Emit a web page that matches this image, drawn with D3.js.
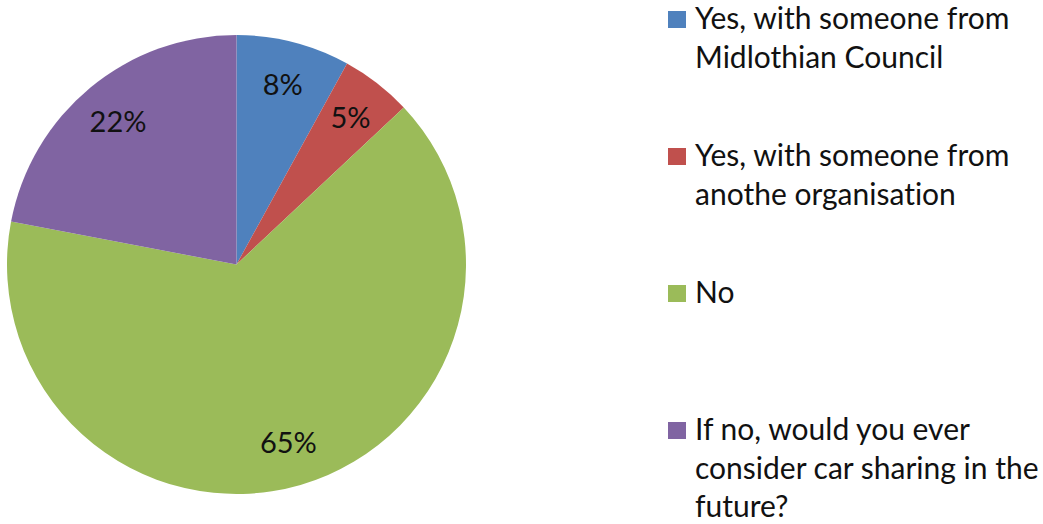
<!DOCTYPE html>
<html>
<head>
<meta charset="utf-8">
<script src="https://cdn.jsdelivr.net/npm/d3@7"></script>
<style>
  html, body { margin: 0; padding: 0; background: #fff; }
  svg { display: block; }
  text { font-family: Lato, "Open Sans", "Liberation Sans", sans-serif; fill: #111; font-variant-ligatures: none; }
</style>
</head>
<body>
<svg id="chart" width="1043" height="524"></svg>
<script>
// Survey answers: have you car shared?
const categories = [
  "Yes, with someone from Midlothian Council",
  "Yes, with someone from anothe organisation",
  "No",
  "If no, would you ever consider car sharing in the future?"
];
const legendLines = [
  ["Yes, with someone from", "Midlothian Council"],
  ["Yes, with someone from", "anothe organisation"],
  ["No"],
  ["If no, would you ever", "consider car sharing in the", "future?"]
];
const values = [8, 5, 65, 22];
const colors = ["#4F81BD", "#C0504D", "#9BBB59", "#8064A2"];

const svg = d3.select("#chart");
const cx = 236.5, cy = 264.5, radius = 229.5;

const data = categories.map((c, i) => ({ name: c, value: values[i], color: colors[i], lines: legendLines[i] }));

const pie = d3.pie().sort(null).value(d => d.value);
const arc = d3.arc().innerRadius(0).outerRadius(radius);
const labelArc = d3.arc().innerRadius(radius * 0.81).outerRadius(radius * 0.81);

const g = svg.append("g").attr("transform", `translate(${cx},${cy})`);
const arcs = pie(data);

g.selectAll("path.slice")
  .data(arcs)
  .join("path")
  .attr("class", "slice")
  .attr("d", arc)
  .attr("fill", d => d.data.color);

g.selectAll("text.pct")
  .data(arcs)
  .join("text")
  .attr("class", "pct")
  .attr("transform", d => `translate(${labelArc.centroid(d)})`)
  .attr("text-anchor", "middle")
  .attr("dy", "0.36em")
  .style("font-size", "29px")
  .text(d => d.data.value + "%");

// Legend
const legendY = d3.scaleLinear().domain([0, 1]).range([11, 148]);
const lineH = 38.5;
const legend = svg.append("g");
const items = legend.selectAll("g.item")
  .data(data)
  .join("g")
  .attr("class", "item")
  .attr("transform", (d, i) => `translate(668,${legendY(i)})`);

items.append("rect")
  .attr("width", 18)
  .attr("height", 17)
  .attr("fill", d => d.color);

items.each(function(d) {
  const t = d3.select(this).append("text")
    .attr("x", 27)
    .attr("y", 18)
    .style("font-size", "30px");
  d.lines.forEach((ln, j) => {
    t.append("tspan").attr("x", 27).attr("y", 18 + j * lineH).text(ln);
  });
});
</script>
</body>
</html>
